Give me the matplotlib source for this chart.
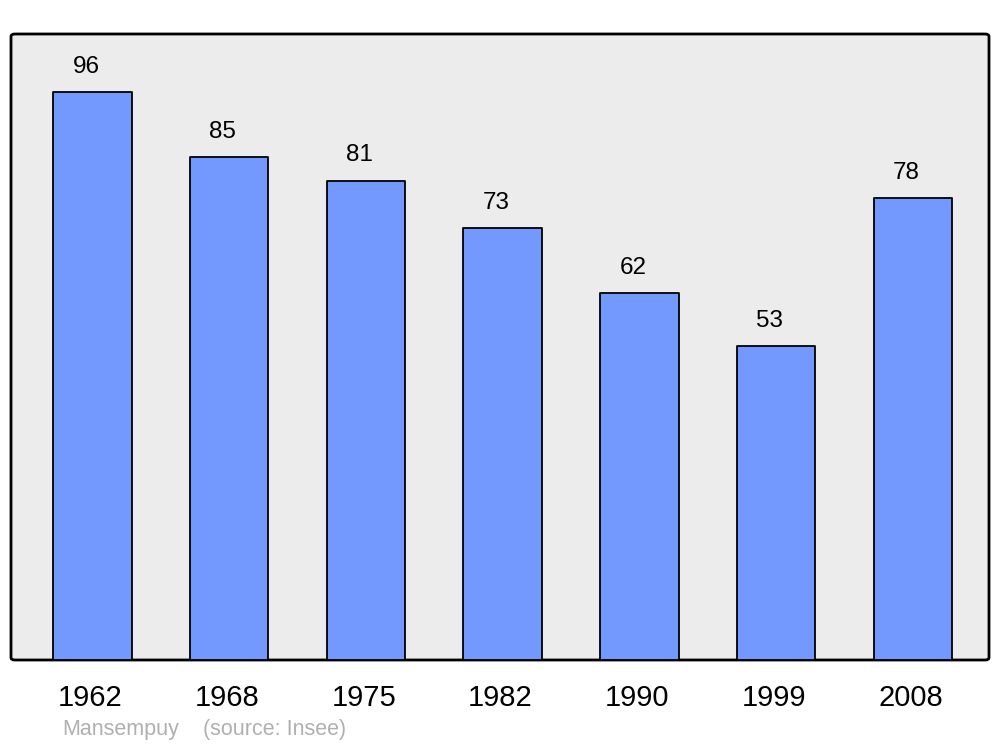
import matplotlib
matplotlib.use("Agg")
import matplotlib.pyplot as plt
from matplotlib.patches import FancyBboxPatch

years = ["1962", "1968", "1975", "1982", "1990", "1999", "2008"]
population = [96, 85, 81, 73, 62, 53, 78]

plt.rcParams['font.family'] = ['Liberation Sans', 'DejaVu Sans']

fig = plt.figure(figsize=(10, 7.47), dpi=100)
ax = fig.add_axes([0.011, 1 - 660/747, 0.978, (660 - 34)/747])
ax.set_facecolor('none')
frame = FancyBboxPatch((0, 0), 1, 1, boxstyle="round,pad=0,rounding_size=0.004",
                       transform=ax.transAxes, facecolor='#ececec', edgecolor='black',
                       linewidth=2, zorder=0, clip_on=False)
ax.add_patch(frame)

x = list(range(len(years)))
bars = ax.bar(x, population, width=0.575, color='#7399ff', edgecolor='black',
              linewidth=1.3, joinstyle='round', zorder=2)
for xi, v in zip(x, population):
    ax.annotate(str(v), (xi, v), xytext=(-4.5, 14), textcoords='offset points',
                ha='center', va='baseline', fontsize=17.5)

ax.set_xlim(-0.595, 6.557)
ax.set_ylim(0, 105.8)
ax.set_yticks([])
ax.set_xticks(x)
ax.set_xticklabels(years, fontsize=21)
ax.tick_params(axis='x', length=0, pad=17)
for lbl in ax.get_xticklabels():
    lbl.set_transform(lbl.get_transform() + matplotlib.transforms.ScaledTranslation(-2/100, 0, fig.dpi_scale_trans))
for s in ax.spines.values():
    s.set_visible(False)

fig.text(0.062, 1 - 730/747, "Mansempuy", fontsize=15.5,
         color='#b0b0b0', va='center', ha='left')
fig.text(0.203, 1 - 730/747, "(source: Insee)", fontsize=15.5,
         color='#b0b0b0', va='center', ha='left')

fig.savefig("out.png", dpi=100)
